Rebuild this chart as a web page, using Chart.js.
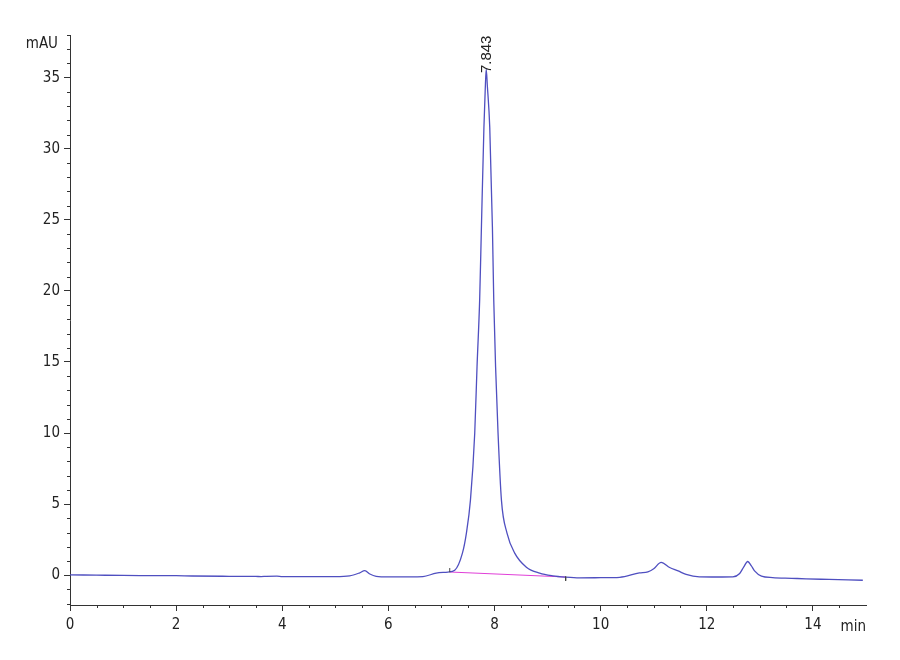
<!DOCTYPE html>
<html>
<head>
<meta charset="utf-8">
<script src="https://cdn.jsdelivr.net/npm/chart.js@4.4.0/dist/chart.umd.min.js"></script>
<style>
    html, body { margin: 0; padding: 0; background: #fff; }
</style>
</head>
<body>
<canvas id="chart" width="900" height="660"></canvas>
<script>
// Chromatogram trace
const timeMin = [0.0, 0.5, 1.0, 1.5, 2.0, 2.3, 3.0, 3.5, 3.6, 3.7, 3.9, 4.0, 4.5, 5.0, 5.27, 5.45, 5.556, 5.65, 5.77,
    6.0, 6.4, 6.65, 6.9, 7.12, 7.25, 7.395, 7.47, 7.546, 7.627, 7.67, 7.72, 7.753, 7.80, 7.825, 7.843, 7.865, 7.91,
    7.96, 7.985, 8.02, 8.066, 8.13, 8.235, 8.38, 8.60, 8.85, 9.1, 9.34, 9.6, 10.0, 10.36, 10.73, 10.89, 11.0, 11.14,
    11.3, 11.46, 11.61, 11.86, 12.2, 12.49, 12.62, 12.70, 12.77, 12.84, 12.9, 13.03, 13.24, 13.6, 13.87, 14.3, 14.94];
const signalMau = [0.02, 0.0, -0.02, -0.03, -0.04, -0.06, -0.08, -0.09, -0.1, -0.08, -0.07, -0.1, -0.1, -0.1, -0.05, 0.15, 0.32, 0.08, -0.08,
    -0.12, -0.12, -0.1, 0.14, 0.22, 0.35, 1.55, 2.96, 5.28, 10.0, 14.65, 19.4, 24.5, 31.5, 34.2, 35.6, 34.4, 31.5,
    24.5, 19.4, 14.65, 10.0, 5.28, 2.96, 1.55, 0.56, 0.14, -0.05, -0.14, -0.19, -0.18, -0.15, 0.16, 0.23, 0.45, 0.9,
    0.54, 0.3, 0.05, -0.12, -0.13, -0.12, 0.12, 0.6, 0.96, 0.65, 0.3, -0.07, -0.17, -0.22, -0.26, -0.3, -0.36];

// Integration baseline under the main peak
const baselineTime = [7.156, 9.34];
const baselineSignal = [0.22, -0.13];

// Peak label
const peakTime = 7.843;
const peakHeight = 35.6;
const peakLabel = '7.843';

// Axes
const xTickValues = [0, 2, 4, 6, 8, 10, 12, 14];
const yTickValues = [0, 5, 10, 15, 20, 25, 30, 35];

const axisColor = '#333';
const labelFont = { family: '"Liberation Sans Narrow", "DejaVu Sans Condensed", "Liberation Sans", sans-serif', size: 15 };

function toPoints(xs, ys) {
    return xs.map((x, i) => ({ x: x, y: ys[i] }));
}

// Minor ticks, axis titles and the peak label
const extrasPlugin = {
    id: 'extras',
    afterDraw(chart) {
        const ctx = chart.ctx;
        const xs = chart.scales.x;
        const ys = chart.scales.y;
        const area = chart.chartArea;
        ctx.save();
        ctx.strokeStyle = axisColor;
        ctx.lineWidth = 1;
        ctx.beginPath();
        for (let v = Math.ceil(ys.min); v <= ys.max; v++) {
            if (v % 5 === 0) continue;
            const py = Math.round(ys.getPixelForValue(v)) + 0.5;
            ctx.moveTo(area.left - 3, py);
            ctx.lineTo(area.left, py);
        }
        for (let i = 1; i * 0.5 < xs.max; i++) {
            if (i % 4 === 0) continue;
            const px = Math.round(xs.getPixelForValue(i * 0.5)) + 0.5;
            ctx.moveTo(px, area.bottom);
            ctx.lineTo(px, area.bottom + 3);
        }
        ctx.stroke();

        ctx.fillStyle = '#222';
        ctx.font = labelFont.size + 'px ' + labelFont.family;
        ctx.textBaseline = 'middle';
        ctx.textAlign = 'right';
        ctx.fillText('mAU', area.left - 12, 44);
        ctx.fillText('min', area.right, 627);

        // peak retention time, rotated
        const px = xs.getPixelForValue(peakTime);
        const py = ys.getPixelForValue(peakHeight);
        ctx.translate(px, py + 4);
        ctx.rotate(-Math.PI / 2);
        ctx.textAlign = 'left';
        ctx.font = '15px "Liberation Sans", Arial, sans-serif';
        ctx.fillText(peakLabel, 0, 1);
        ctx.restore();
    }
};

new Chart(document.getElementById('chart'), {
    type: 'scatter',
    data: {
        datasets: [
            {
                data: toPoints(baselineTime, baselineSignal),
                showLine: true,
                borderColor: '#e040d8',
                borderWidth: 1.2,
                pointRadius: 0,
                order: 2
            },
            {
                data: toPoints(timeMin, signalMau),
                showLine: true,
                borderColor: '#4f4fc0',
                borderWidth: 1.3,
                pointRadius: 0,
                cubicInterpolationMode: 'monotone',
                order: 1
            },
            {
                // integration start mark
                data: toPoints([baselineTime[0], baselineTime[0]], [0.2, 0.5]),
                showLine: true,
                borderColor: '#444',
                borderWidth: 1,
                pointRadius: 0
            },
            {
                // integration end mark
                data: toPoints([baselineTime[1], baselineTime[1]], [-0.1, -0.4]),
                showLine: true,
                borderColor: '#444',
                borderWidth: 1,
                pointRadius: 0
            }
        ]
    },
    options: {
        responsive: false,
        animation: false,
        devicePixelRatio: 1,
        layout: { padding: { left: 0, top: 35, right: 34, bottom: 0 } },
        plugins: {
            legend: { display: false },
            tooltip: { enabled: false }
        },
        scales: {
            x: {
                type: 'linear',
                min: 0,
                max: 15,
                afterFit: s => { s.height = 55; },
                afterBuildTicks: s => { s.ticks = xTickValues.map(v => ({ value: v })); },
                ticks: { font: labelFont, color: '#222', padding: 5, maxRotation: 0, autoSkip: false },
                grid: { drawOnChartArea: false, drawTicks: true, tickLength: 6, color: axisColor },
                border: { display: true, color: axisColor, width: 1 }
            },
            y: {
                type: 'linear',
                min: -2.1,
                max: 38,
                afterFit: s => { s.width = 70; },
                afterBuildTicks: s => { s.ticks = yTickValues.map(v => ({ value: v })); },
                ticks: { font: labelFont, color: '#222', padding: 4, autoSkip: false },
                grid: { drawOnChartArea: false, drawTicks: true, tickLength: 6, color: axisColor },
                border: { display: true, color: axisColor, width: 1 }
            }
        }
    },
    plugins: [extrasPlugin]
});
</script>
</body>
</html>
